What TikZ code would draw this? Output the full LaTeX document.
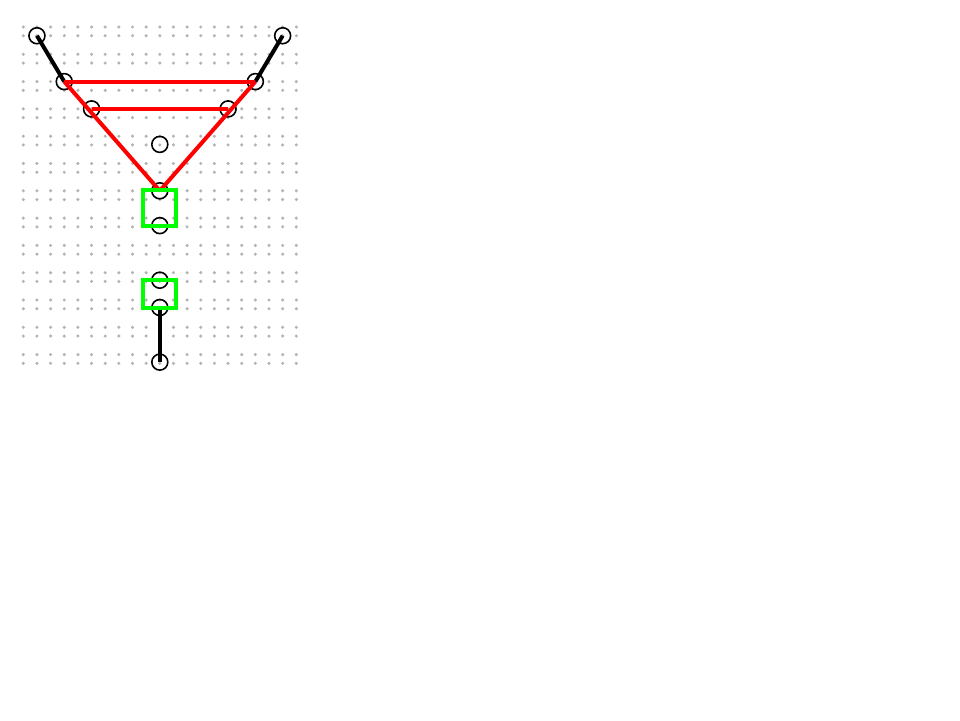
\documentclass[tikz,border=0pt]{standalone}
\usetikzlibrary{fit}
\definecolor{dotgray}{RGB}{180,180,180}
\definecolor{boxgreen}{RGB}{0,255,0}
\tikzset{
  vtx/.style={circle,draw=black,line width=1.2pt,minimum size=12pt,inner sep=0pt},
  redge/.style={draw=red,line width=3pt},
  bedge/.style={draw=black,line width=3pt},
  gbox/.style={draw=boxgreen,line width=3pt,inner xsep=12.3pt,inner ysep=0.5pt}
}
\begin{document}
\begin{tikzpicture}[x=10.24pt,y=-10.24pt]
          \useasboundingbox (-1.707,-1.978) rectangle (68.62,50.77);
          % grid
          \foreach \c in {0,...,20}
            \foreach \r in {0,...,12}{
              \fill[dotgray] (\c,2*\r) circle (1.3pt);
              \fill[dotgray] (\c,2*\r+0.64) circle (1.3pt);
            }
          % vertices
          \node[vtx] (tl) at (1,0.64) {};
          \node[vtx] (tr) at (19,0.64) {};
          \node[vtx] (a1) at (3,4) {};
          \node[vtx] (a2) at (17,4) {};
          \node[vtx] (b1) at (5,6) {};
          \node[vtx] (b2) at (15,6) {};
          \node[vtx] (c) at (10,8.6) {};
          \node[vtx] (d) at (10,12) {};
          \node[vtx] (e) at (10,14.55) {};
          \node[vtx] (f) at (10,18.55) {};
          \node[vtx] (g) at (10,20.55) {};
          \node[vtx] (h) at (10,24.55) {};
          % edges
          \draw[bedge] (tl.center) -- (a1.center);
          \draw[bedge] (tr.center) -- (a2.center);
          \draw[bedge] (g.center) -- (h.center);
          \draw[redge] (a1.center) -- (a2.center);
          \draw[redge] (b1.center) -- (b2.center);
          \draw[redge] (a1.center) -- (d.center);
          \draw[redge] (a2.center) -- (d.center);
          % boxes
          \node[gbox,fit=(d.center)(e.center)] (box1) {};
          \node[gbox,fit=(f.center)(g.center)] (box2) {};
        \end{tikzpicture}
\end{document}
